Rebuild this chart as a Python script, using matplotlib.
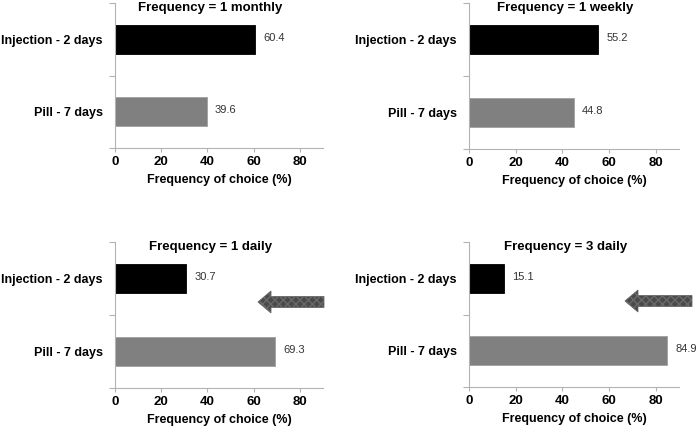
import matplotlib.pyplot as plt
from matplotlib.patches import Polygon

plt.rcParams['font.family'] = ['Liberation Sans', 'DejaVu Sans']

options = ['Injection - 2 days', 'Pill - 7 days']
titles = ['Frequency = 1 monthly', 'Frequency = 1 weekly',
          'Frequency = 1 daily', 'Frequency = 3 daily']
injection = [60.4, 55.2, 30.7, 15.1]
pill = [39.6, 44.8, 69.3, 84.9]
xticks = [0, 20, 40, 60, 80]

W, H = 698, 430
fig = plt.figure(figsize=(W / 100, H / 100), dpi=100)

# axes boxes in pixels: left, top, right, bottom
boxes = [(115, 3, 323, 148), (469, 3, 679, 149),
         (115, 242, 323, 388), (469, 242, 679, 387)]

spine_col = '#b3b3b3'
for i, (l, t, r, b) in enumerate(boxes):
    ax = fig.add_axes([l / W, 1 - b / H, (r - l) / W, (b - t) / H])
    vals = [injection[i], pill[i]]
    ax.barh([0, 1], vals, height=0.4, color=['black', '#808080'],
            edgecolor=['black', '#a0a0a0'], linewidth=0.6)
    for y, v in zip([0, 1], vals):
        ax.annotate(f'{v:.1f}', (v, y), xytext=(6, 1), textcoords='offset points',
                    va='center', ha='left', fontsize=8, color='#333333')
    ax.set_xlim(0, 90)
    ax.set_ylim(1.5, -0.5)
    ax.set_yticks([0, 1])
    ax.set_yticklabels(options, fontsize=9, fontweight='bold')
    ax.set_yticks([-0.5, 0.5, 1.5], minor=True)
    ax.tick_params(axis='y', which='major', length=0, pad=9)
    ax.tick_params(axis='y', which='minor', length=4, color=spine_col, width=0.8)
    ax.set_xticks(xticks)
    ax.set_xticklabels([str(x) for x in xticks], fontsize=9.5, fontweight='bold')
    ax.tick_params(axis='x', length=3, color=spine_col, width=0.8, pad=3)
    ax.set_xlabel('Frequency of choice (%)', fontsize=9, fontweight='bold', labelpad=4)
    for s in ['top', 'right']:
        ax.spines[s].set_visible(False)
    for s in ['left', 'bottom']:
        ax.spines[s].set_color(spine_col)
        ax.spines[s].set_linewidth(0.8)
    ax.text(0.46, 0.965, titles[i], transform=ax.transAxes, ha='center', va='center',
            fontsize=9.5, fontweight='bold')

# left-pointing arrows next to the daily panels (pixel coords)
def arrow(tip, tail, yc, head_len=13, shaft=11, head=22):
    pts = [(tip, yc), (tip + head_len, yc - head / 2), (tip + head_len, yc - shaft / 2),
           (tail, yc - shaft / 2), (tail, yc + shaft / 2), (tip + head_len, yc + shaft / 2),
           (tip + head_len, yc + head / 2)]
    pts = [(x / W, 1 - y / H) for x, y in pts]
    fig.patches.append(Polygon(pts, closed=True, transform=fig.transFigure,
                               facecolor='#4a4a4a', edgecolor='#6a6a6a', lw=0.6,
                               hatch='xxxx'))

arrow(258, 324, 302)
arrow(625, 692, 301)

fig.savefig('out.png', dpi=100)
